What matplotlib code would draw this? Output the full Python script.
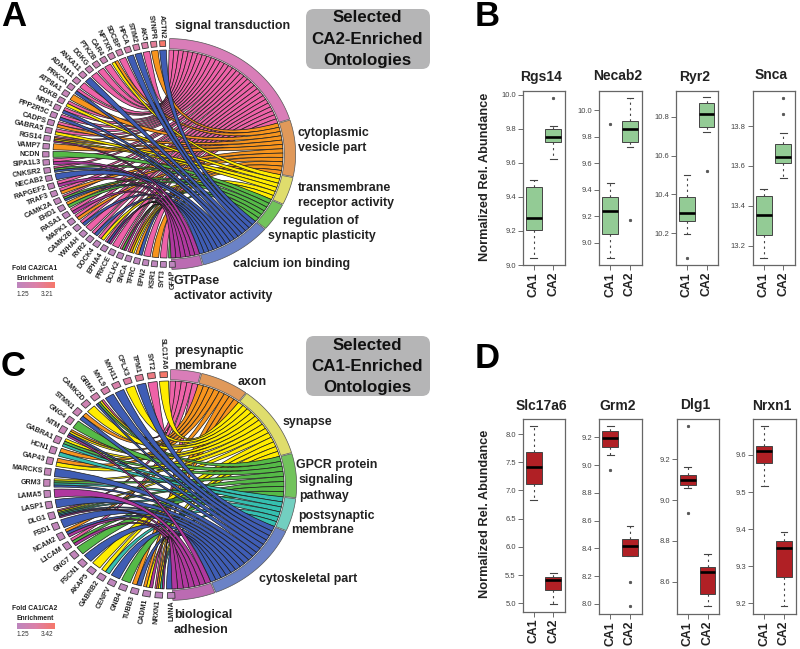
import matplotlib
matplotlib.use('Agg')
import numpy as np
import matplotlib.pyplot as plt
from matplotlib.patches import PathPatch, Polygon, FancyBboxPatch
from matplotlib.path import Path
from matplotlib.colors import LinearSegmentedColormap

plt.rcParams['font.family'] = ['Liberation Sans', 'DejaVu Sans']

# ---------- DATA: panel A ----------
terms_a = ['signal transduction', 'cytoplasmic vesicle part', 'transmembrane receptor activity',
           'regulation of synaptic plasticity', 'calcium ion binding', 'GTPase activator activity']
ribbon_a = ['#EE62A8', '#F7941D', '#FFEC00', '#55BA47', '#3F5DB5', '#B0389F']
band_a = ['#D97DB8', '#E0995A', '#DFDD6C', '#72C35C', '#6B82C6', '#BB6BB2']
genes_a = ['ACTN2', 'SYNPR', 'AK5', 'STIM2', 'HPCA', 'SDCBP', 'NPTXR', 'CAR4', 'PTK2B', 'DGKG', 'ANXA11',
           'ADAM11', 'PRKCA', 'ATP8A1', 'DGKB', 'NRP1', 'PPP2R5C', 'CADPS', 'GABRA5', 'RGS14', 'VAMP7', 'NCDN',
           'SIPA1L3', 'CNKSR2', 'NECAB2', 'RAPGEF2', 'TRAF3', 'CAMK2A', 'EHD1', 'RASA1', 'MAPK1', 'CAMK2B',
           'YWHAH', 'RYR2', 'DOCK4', 'EPHA4', 'PRKCE', 'DCLK2', 'SNCA', 'TFRC', 'EPN2', 'KSR1', 'SYT3', 'GFAP']
fold_a = [3.21, 2.5, 2.2, 2.1, 2.0, 1.9, 1.8, 1.7, 1.7, 1.6, 1.6, 1.6, 1.5, 1.5, 1.5, 1.5, 1.4, 1.4, 1.4, 1.4, 1.4,
          1.4, 1.4, 1.4, 1.4, 1.4, 1.4, 1.4, 1.3, 1.3, 1.3, 1.3, 1.3, 1.3, 1.3, 1.3, 1.3, 1.3, 1.3, 1.3, 1.3, 1.3,
          1.25, 1.25]
links_a = ['B', 'O', 'S', 'B', 'B', 'S', 'OY', 'S', 'S', 'S', 'B', 'S', 'SB', 'O', 'SY', 'SB', 'SB', 'SO', 'SY',
           'SOYM', 'O', 'G', 'SM', 'SGB', 'B', 'SM', 'SO', 'SGB', 'OG', 'SM', 'SO', 'SB', 'S', 'SB', 'SY', 'SBM',
           'S', 'SGM', 'SOY', 'OB', 'S', 'O', 'S', 'G']
keys_a = 'SOYGBM'

# ---------- DATA: panel C ----------
terms_c = ['presynaptic membrane', 'axon', 'synapse', 'GPCR protein signaling pathway', 'postsynaptic membrane',
           'cytoskeletal part', 'biological adhesion']
ribbon_c = ['#EE62A8', '#F7941D', '#FFEC00', '#55BA47', '#35BFB0', '#3F5DB5', '#B0389F']
band_c = ['#D97DB8', '#E0995A', '#DFDD6C', '#72C35C', '#72CFC0', '#6B82C6', '#BB6BB2']
genes_c = ['SLC17A6', 'SYT2', 'TPM1', 'CPLX3', 'MYH11', 'MYL9', 'GRM2', 'CAMK2D', 'STMN1', 'GNG4', 'NTM', 'GABRA1',
           'HCN1', 'GAP43', 'MARCKS', 'GRM3', 'LAMA5', 'LASP1', 'DLG1', 'FSD1', 'NCAM2', 'L1CAM', 'GNG7', 'FSCN1',
           'AKAP5', 'GABRB2', 'CENPV', 'GNB4', 'TUBB3', 'CADM1', 'NRXN1', 'LMNA']
fold_c = [3.42, 3.0, 2.6, 2.4, 2.2, 2.1, 2.0, 1.8, 1.7, 1.7, 1.6, 1.6, 1.5, 1.5, 1.5, 1.5, 1.4, 1.4, 1.4, 1.4, 1.4,
          1.4, 1.4, 1.4, 1.3, 1.3, 1.3, 1.3, 1.3, 1.3, 1.25, 1.25]
links_c = ['N', 'P', 'K', 'N', 'K', 'K', 'PNRK', 'N', 'AK', 'R', 'ANKD', 'NRT', 'AT', 'AN', 'K', 'NRTK', 'D', 'K',
           'PNRTKD', 'K', 'AKD', 'PRD', 'R', 'K', 'N', 'NT', 'K', 'R', 'AK', 'AND', 'PANTD', 'K']
keys_c = 'PANRTKD'

# ---------- DATA: panels B and D (q1, median, q3, low whisker, high whisker, outliers) ----------
genes_b = ['Rgs14', 'Necab2', 'Ryr2', 'Snca']
ca1_b = [(9.208, 9.276, 9.459, 9.039, 9.498, []),
         (9.07, 9.239, 9.349, 8.887, 9.455, [9.894]),
         (10.263, 10.305, 10.389, 10.197, 10.5, [10.071]),
         (13.252, 13.354, 13.451, 13.138, 13.486, [])]
ca2_b = [(9.725, 9.753, 9.798, 9.625, 9.82, [9.982]),
         (9.764, 9.862, 9.917, 9.726, 10.095, [9.176]),
         (10.747, 10.812, 10.872, 10.723, 10.9, [10.522]),
         (13.616, 13.645, 13.71, 13.541, 13.764, [13.942, 13.862])]
ylims_b = [(9.0, 10.0235), (8.834, 10.146), (10.037, 10.932), (13.103, 13.976)]
yticks_b = [[9.0, 9.2, 9.4, 9.6, 9.8, 10.0], [9.0, 9.2, 9.4, 9.6, 9.8, 10.0],
            [10.2, 10.4, 10.6, 10.8], [13.2, 13.4, 13.6, 13.8]]

genes_d = ['Slc17a6', 'Grm2', 'Dlg1', 'Nrxn1']
ca1_d = [(7.115, 7.41, 7.676, 6.825, 8.136, []),
         (9.13, 9.197, 9.245, 9.075, 9.279, [8.965]),
         (9.072, 9.099, 9.123, 9.058, 9.164, [9.363, 8.938]),
         (9.578, 9.612, 9.625, 9.516, 9.678, [])]
ca2_d = [(5.23, 5.408, 5.473, 4.988, 5.543, []),
         (8.348, 8.42, 8.47, 8.348, 8.559, [8.161, 7.986]),
         (8.538, 8.646, 8.674, 8.479, 8.734, []),
         (9.271, 9.349, 9.367, 9.192, 9.392, [])]
ylims_d = [(4.852, 8.266), (7.928, 9.332), (8.441, 9.398), (9.171, 9.697)]
yticks_d = [[5.0, 5.5, 6.0, 6.5, 7.0, 7.5, 8.0], [8.0, 8.2, 8.4, 8.6, 8.8, 9.0, 9.2],
            [8.6, 8.8, 9.0, 9.2], [9.2, 9.3, 9.4, 9.5, 9.6]]
groups = ['CA1', 'CA2']

# ---------- figure ----------
W, H = 800, 649
fig = plt.figure(figsize=(W / 100, H / 100), dpi=100, facecolor='white')
ax = fig.add_axes([0, 0, 1, 1], zorder=0)
ax.set_xlim(0, W)
ax.set_ylim(H, 0)
ax.axis('off')

RX, RY = 115.0, 104.0
CMAP = LinearSegmentedColormap.from_list('fold', ['#BE86BE', '#DC80A8', '#F6776A'])
EDGE = '#1c1c1c'


def chord(cx, cy, genes, fold, links, keys, ribbons, bands, start=178.0, end=357.5, arc_total=178.0):
    def pt(phi, r=1.0):
        a = np.radians(phi)
        return cx + RX * r * np.sin(a), cy - RY * r * np.cos(a)

    def arc(a0, a1, r=1.0, n=14):
        return [pt(p, r) for p in np.linspace(a0, a1, n)]

    n = len(genes)
    step = (end - start) / (n - 1)
    phis = [end - i * step for i in range(n)]
    total = sum(len(s) for s in links)
    unit = arc_total / total
    slots = {}
    theta = 0.5
    for k, key in enumerate(keys):
        members = [i for i, s in enumerate(links) if key in s]
        t0 = theta
        for m in members:
            slots[(m, key)] = (theta, theta + unit)
            theta += unit
        o = arc(t0 + 0.25, theta - 0.25, 1.11, 40)
        i_ = arc(theta - 0.25, t0 + 0.25, 1.012, 40)
        ax.add_patch(Polygon(o + i_, closed=True, fc=bands[k], ec='#555555', lw=0.5, zorder=2))
    wedge = {}
    for i, s in enumerate(links):
        ordered = sorted(s, key=keys.index)
        w = step * 0.8
        top = phis[i] + w / 2
        sub = w / len(ordered)
        for j, key in enumerate(ordered):
            wedge[(i, key)] = (top - (j + 1) * sub, top - j * sub)
    for k, key in enumerate(keys):
        for i, s in enumerate(links):
            if key not in s:
                continue
            t0, t1 = slots[(i, key)]
            g0, g1 = wedge[(i, key)]
            head = arc(t0, t1, 1.0, 8)
            tail = arc(g0, g1, 1.0, 5)
            verts = head + [(cx, cy), tail[0]] + tail[1:] + [(cx, cy), head[0], head[0]]
            codes = ([Path.MOVETO] + [Path.LINETO] * (len(head) - 1) + [Path.CURVE3, Path.CURVE3] +
                     [Path.LINETO] * (len(tail) - 1) + [Path.CURVE3, Path.CURVE3, Path.CLOSEPOLY])
            ax.add_patch(PathPatch(Path(verts, codes), fc=ribbons[k], ec=EDGE, lw=0.5, zorder=3))
    fmin, fmax = min(fold), max(fold)
    for i, g in enumerate(genes):
        p = phis[i]
        hw = min(step * 0.33, 1.75)
        sq = [pt(p - hw, 1.035), pt(p + hw, 1.035), pt(p + hw, 1.09), pt(p - hw, 1.09)]
        col = CMAP((fold[i] - fmin) / (fmax - fmin))
        ax.add_patch(Polygon(sq, closed=True, fc=col, ec='#3a3a3a', lw=0.6, zorder=2))
        x, y = pt(p, 1.11)
        ax.text(x, y, g, fontsize=5.1, fontweight='bold', color='#222222', ha='right', va='center',
                rotation=270 - p, rotation_mode='anchor', zorder=4)


chord(168, 154, genes_a, fold_a, links_a, keys_a, ribbon_a, band_a)
chord(169, 485, genes_c, fold_c, links_c, keys_c, ribbon_c, band_c, start=179.0)

labels_px = [('signal transduction', 175, 26), ('cytoplasmic', 298, 133), ('vesicle part', 298, 148),
             ('transmembrane', 298, 188), ('receptor activity', 298, 203), ('regulation of', 283, 221),
             ('synaptic plasticity', 268, 236), ('calcium ion binding', 233, 264), ('GTPase', 174, 281),
             ('activator activity', 174, 296),
             ('presynaptic', 174, 351), ('membrane', 174, 366), ('axon', 238, 382), ('synapse', 283, 422),
             ('GPCR protein', 296, 465), ('signaling', 299, 480), ('pathway', 299, 496), ('postsynaptic', 298, 516),
             ('membrane', 291, 530), ('cytoskeletal part', 259, 579), ('biological', 174, 615),
             ('adhesion', 174, 630)]
for s, x, y in labels_px:
    ax.text(x, y, s, fontsize=8.9, fontweight='bold', color='#222222', ha='left', va='center', zorder=5)

for y0, kind in [(9, 'CA2'), (336, 'CA1')]:
    ax.add_patch(FancyBboxPatch((312, y0 + 6), 112, 48, boxstyle='round,pad=6,rounding_size=8', fc='#B5B5B6',
                                ec='none', zorder=1))
    for j, s in enumerate(['Selected', kind + '-Enriched', 'Ontologies']):
        ax.text(367, y0 + 9 + j * 21.3, s, fontsize=12.2, fontweight='bold', color='#111111', ha='center',
                va='center', zorder=5)

for y0, label, hi in [(268, 'Fold CA2/CA1', '3.21'), (609, 'Fold CA1/CA2', '3.42')]:
    ax.text(35, y0, label, fontsize=4.9, fontweight='bold', color='#222222', ha='center', va='center')
    ax.text(35, y0 + 10, 'Enrichment', fontsize=4.9, fontweight='bold', color='#222222', ha='center', va='center')
    ax.imshow(np.linspace(0, 1, 64)[None, :], cmap=CMAP, extent=(16.5, 54, y0 + 20.5, y0 + 15), aspect='auto',
              zorder=2)
    ax.text(23, y0 + 26, '1.25', fontsize=4.7, color='#333333', ha='center', va='center')
    ax.text(47, y0 + 26, hi, fontsize=4.7, color='#333333', ha='center', va='center')
ax.set_xlim(0, W)
ax.set_ylim(H, 0)

for s, x, y in [('A', 1, 17), ('B', 475, 17), ('C', 1, 367), ('D', 475, 358)]:
    ax.text(x, y, s, fontsize=25, fontweight='bold', color='black', ha='left', va='center')


def box_panel(rect, gene, ca1, ca2, ylim, yticks, color, title_y):
    x0, y0, x1, y1 = rect
    a = fig.add_axes([x0 / W, 1 - y1 / H, (x1 - x0) / W, (y1 - y0) / H], zorder=2)
    stats = []
    for name, s in zip(groups, (ca1, ca2)):
        stats.append(dict(label=name, q1=s[0], med=s[1], q3=s[2], whislo=s[3], whishi=s[4], fliers=s[5]))
    a.bxp(stats, positions=[1, 2], widths=0.8, capwidths=0.34, patch_artist=True,
          boxprops=dict(facecolor=color, edgecolor='#444444', linewidth=0.7),
          medianprops=dict(color='black', linewidth=1.9, solid_capstyle='butt'),
          whiskerprops=dict(color='#444444', linewidth=0.8, linestyle=(0, (2, 3))),
          capprops=dict(color='#444444', linewidth=0.8),
          flierprops=dict(marker='o', markersize=1.9, markerfacecolor='#555555', markeredgecolor='#444444',
                          markeredgewidth=0.4))
    a.set_xlim(0.44, 2.595)
    a.set_ylim(*ylim)
    a.set_yticks(yticks)
    a.set_yticklabels(['%.1f' % v for v in yticks], fontsize=5.5, color='#444444')
    a.set_xticks([1, 2])
    a.set_xticklabels(groups, rotation=90, fontsize=8.8, fontweight='bold', color='#222222')
    a.tick_params(axis='y', length=3.5, width=0.6, color='#555555', pad=1.5)
    a.tick_params(axis='x', length=3.5, width=0.6, color='#555555', pad=1.5)
    for sp in a.spines.values():
        sp.set_color('#666666')
        sp.set_linewidth(0.9)
    ax.text((x0 + x1) / 2 - 2.5, title_y, gene, fontsize=10, fontweight='bold', color='#222222', ha='center',
            va='center')


rects_b = [(522.7, 91, 565, 265), (599.3, 91, 641.7, 265), (676, 91, 718.3, 265), (752.7, 91, 795, 265)]
titles_b = [77, 76, 77, 75]
for r, g, c1, c2, yl, yt, ty in zip(rects_b, genes_b, ca1_b, ca2_b, ylims_b, yticks_b, titles_b):
    box_panel(r, g, c1, c2, yl, yt, '#93CB95', ty)

rects_d = [(522.7, 419, 565, 611.7), (599.3, 419, 641.7, 614), (676.7, 419, 719.3, 614), (753.3, 419, 795.7, 614)]
for r, g, c1, c2, yl, yt in zip(rects_d, genes_d, ca1_d, ca2_d, ylims_d, yticks_d):
    box_panel(r, g, c1, c2, yl, yt, '#B02025', 405.5)

ax.text(485, 177, 'Normalized Rel. Abundance', fontsize=9.2, fontweight='bold', color='#222222', rotation=90,
        ha='center', va='center')
ax.text(485, 514, 'Normalized Rel. Abundance', fontsize=9.2, fontweight='bold', color='#222222', rotation=90,
        ha='center', va='center')

fig.savefig('out.png', dpi=100)
